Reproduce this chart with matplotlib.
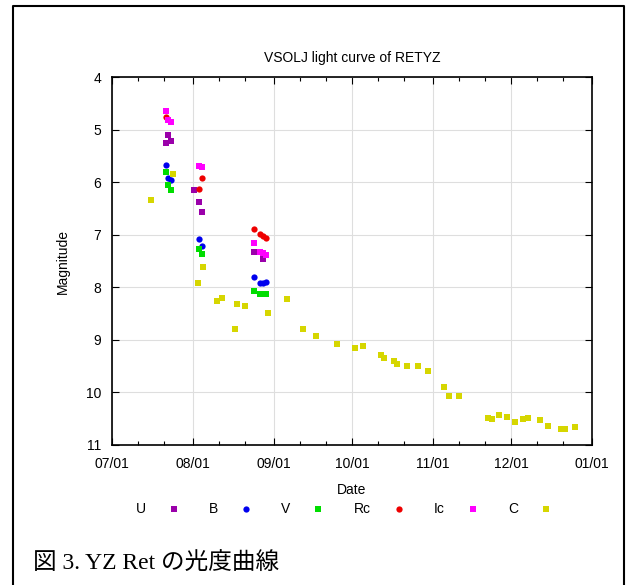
"""
VSOLJ light curve of YZ Ret (Nova Reticuli 2020), U/B/V/Rc/Ic/C bands.
"""

import numpy as np
import pandas as pd
import matplotlib
matplotlib.use('Agg')
import matplotlib.pyplot as plt
import matplotlib.dates as mdates
from matplotlib.lines import Line2D

# days after 2020-07-01 (0 = 07/01) and magnitudes
u_days = [20.6, 21.6, 22.6, 31.6, 33.4, 34.6, 54.6, 57.8]
u_mag = [5.25, 5.10, 5.21, 6.15, 6.37, 6.56, 7.32, 7.47]

b_days = [20.6, 21.6, 22.6, 33.4, 34.6, 54.6, 56.7, 58.0, 58.9]
b_mag = [5.67, 5.93, 5.95, 7.09, 7.21, 7.80, 7.91, 7.91, 7.89]

v_days = [20.6, 21.6, 22.6, 33.4, 34.6, 54.6, 56.7, 58.0, 58.9]
v_mag = [5.80, 6.05, 6.14, 7.27, 7.37, 8.07, 8.12, 8.13, 8.13]

rc_days = [20.6, 33.4, 34.6, 54.6, 56.7, 58.0, 58.9]
rc_mag = [4.77, 6.13, 5.92, 6.89, 6.99, 7.02, 7.06]

ic_days = [20.6, 21.6, 22.6, 33.4, 34.6, 54.6, 56.7, 58.0, 58.9]
ic_mag = [4.65, 4.82, 4.86, 5.69, 5.72, 7.16, 7.32, 7.35, 7.39]

c_days = [14.8, 23.3, 35.0, 33.1, 40.1, 42.1, 47.2, 48.1, 51.1, 59.8,
          67.1, 73.2, 78.2, 86.4, 93.2, 96.1, 103.1, 104.3, 108.1, 109.2,
          113.2, 117.2, 121.3, 127.4, 129.3, 133.2, 144.1, 145.6, 148.4,
          151.3, 154.5, 157.5, 159.4, 164.1, 167.3, 172.2, 173.7, 177.5]
c_mag = [6.34, 5.85, 7.61, 7.92, 8.27, 8.21, 8.79, 8.32, 8.36, 8.49,
         8.23, 8.79, 8.93, 9.07, 9.15, 9.12, 9.29, 9.35, 9.40, 9.45,
         9.49, 9.49, 9.59, 9.89, 10.07, 10.07, 10.49, 10.50, 10.42,
         10.47, 10.57, 10.51, 10.49, 10.53, 10.63, 10.70, 10.70, 10.65]

band_names = ['U', 'B', 'V', 'Rc', 'Ic', 'C']
band_colors = ['#9a00aa', '#0000ee', '#00dd00', '#ee0000', '#ff00ff', '#d6d600']
band_markers = ['s', 'o', 's', 'o', 's', 's']

t0 = pd.Timestamp('2020-07-01')


def to_dates(days):
    return [t0 + pd.Timedelta(days=d) for d in days]


fig = plt.figure(figsize=(6.34, 5.85), dpi=100)
plt.rcParams['font.family'] = ['Liberation Sans', 'DejaVu Sans']

ax = fig.add_axes([112/634, 140/585, 480/634, 368/585])

series = [(u_days, u_mag), (b_days, b_mag), (v_days, v_mag),
          (rc_days, rc_mag), (ic_days, ic_mag), (c_days, c_mag)]
for (d, m), name, col, mk in zip(series, band_names, band_colors, band_markers):
    ax.plot(to_dates(d), m, linestyle='none', marker=mk, ms=4.5,
            color=col, markeredgewidth=0, label=name)

ax.set_ylim(11, 4)
ax.set_yticks(np.arange(4, 12, 1))
ax.set_xlim(pd.Timestamp('2020-07-01'), pd.Timestamp('2021-01-01'))
ax.xaxis.set_major_locator(mdates.MonthLocator())
ax.xaxis.set_major_formatter(mdates.DateFormatter('%m/%d'))
ax.xaxis.set_minor_locator(mdates.DayLocator(bymonthday=[11, 21]))

ax.tick_params(which='both', direction='in', top=True, right=True,
               labelsize=10)
ax.tick_params(axis='x', pad=9)
ax.tick_params(axis='y', pad=8)
ax.tick_params(which='major', length=5, width=0.8)
ax.tick_params(which='minor', length=3, width=0.8)
for sp in ax.spines.values():
    sp.set_linewidth(1.2)

ax.grid(True, which='major', color='#dedede', linewidth=0.8)
ax.set_axisbelow(True)

ax.set_title('VSOLJ light curve of RETYZ', fontsize=10, pad=11)
ax.set_xlabel('Date', fontsize=10, labelpad=8)
ax.set_ylabel('Magnitude', fontsize=10, labelpad=11)

ax.legend(loc='center', bbox_to_anchor=(0.491, -0.175), ncol=6,
          markerfirst=False, frameon=False, fontsize=10,
          handlelength=2.0, handletextpad=1.0, columnspacing=1.55,
          markerscale=1.0)

# outer frame of the figure page
frame_x = [12.7/634, 12.7/634, 624/634, 624/634]
frame_y = [0, 1 - 6/585, 1 - 6/585, 0]
fig.add_artist(Line2D(frame_x, frame_y, transform=fig.transFigure,
                      color='black', linewidth=1.5))

fig.text(33/634, 1 - 563/585, '図 3. YZ Ret の光度曲線', fontsize=17,
         family=['Liberation Serif', 'Noto Sans CJK JP'],
         ha='left', va='center')

fig.savefig('out.png', dpi=100, facecolor='white')
